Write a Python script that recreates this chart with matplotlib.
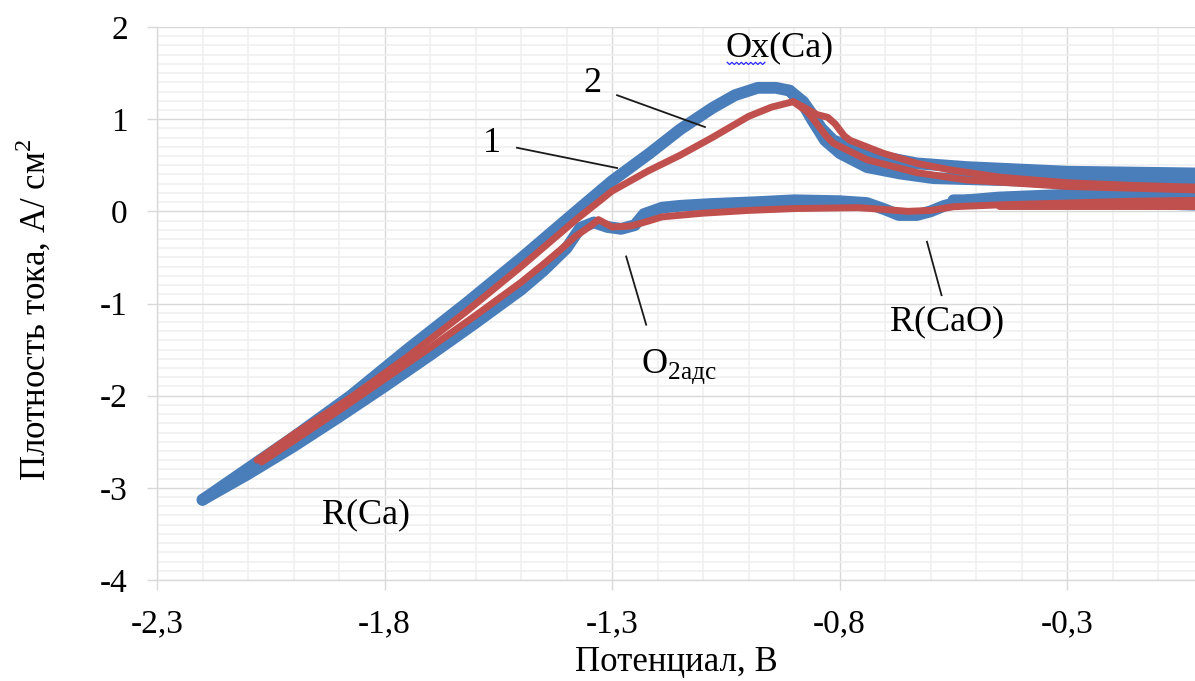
import matplotlib
matplotlib.use("Agg")
import matplotlib.pyplot as plt
from matplotlib.ticker import MultipleLocator, FixedLocator, FixedFormatter
import numpy as np

plt.rcParams['font.family'] = ['Liberation Serif', 'DejaVu Serif']
plt.rcParams['mathtext.fontset'] = 'custom'
plt.rcParams['mathtext.rm'] = 'Liberation Serif'
plt.rcParams['axes.unicode_minus'] = False

# --- curve 2 (blue): anodic sweep, tip -> peak -> tail
blue_up_x = [-2.20, -2.10, -2.00, -1.874, -1.75, -1.621, -1.50, -1.379,
             -1.30, -1.22, -1.15, -1.08, -1.03, -0.98, -0.94, -0.91, -0.88, -0.86,
             -0.84, -0.814, -0.777, -0.704, -0.63, -0.52, -0.30, -0.15, 0.0]
blue_up_y = [-3.13, -2.79, -2.45, -2.00, -1.50, -1.00, -0.51, 0.00,
             0.33, 0.62, 0.89, 1.12, 1.26, 1.34, 1.34, 1.31, 1.19, 1.05,
             0.90, 0.77, 0.70, 0.59, 0.52, 0.48, 0.43, 0.42, 0.41]
# second cycle of the anodic tail
blue_tail_x = [-0.91, -0.88, -0.86, -0.832, -0.799, -0.74, -0.667, -0.594, -0.45, -0.30, -0.15, 0.0]
blue_tail_y = [1.31, 1.16, 0.99, 0.77, 0.63, 0.48, 0.41, 0.36, 0.34, 0.32, 0.31, 0.30]
# cathodic sweep, right edge -> lower branch -> tip
blue_dn_x = [0.0, -0.15, -0.30, -0.45, -0.52, -0.57, -0.60, -0.63, -0.67, -0.70,
             -0.74, -0.80, -0.90, -0.98, -1.08, -1.15, -1.19, -1.23, -1.25, -1.28,
             -1.31, -1.34, -1.37, -1.40, -1.45, -1.50, -1.60, -1.70, -1.80, -1.90,
             -2.00, -2.10, -2.20]
blue_dn_y = [0.21, 0.20, 0.18, 0.15, 0.12, 0.06, 0.0, -0.04, -0.04, 0.02,
             0.09, 0.11, 0.12, 0.10, 0.08, 0.06, 0.04, -0.03, -0.15, -0.19,
             -0.17, -0.12, -0.18, -0.40, -0.64, -0.85, -1.21, -1.56, -1.90, -2.23,
             -2.55, -2.85, -3.13]
blue_dn2_x = [0.0, -0.15, -0.30, -0.45, -0.55]
blue_dn2_y = [0.07, 0.09, 0.11, 0.12, 0.12]

# --- curve 1 (red)
red_up_x = [-2.08, -2.00, -1.874, -1.75, -1.621, -1.50, -1.379, -1.30, -1.22,
            -1.15, -1.08, -1.00, -0.95, -0.902, -0.875, -0.85, -0.826, -0.81, -0.79,
            -0.777, -0.704, -0.63, -0.557, -0.447, -0.30, -0.15, 0.0]
red_up_y = [-2.70, -2.42, -2.02, -1.58, -1.09, -0.60, -0.09, 0.22, 0.44,
            0.61, 0.80, 1.03, 1.13, 1.19, 1.12, 1.05, 1.02, 0.95, 0.82,
            0.77, 0.63, 0.52, 0.45, 0.37, 0.31, 0.28, 0.26]
red_tail_x = [-0.902, -0.871, -0.85, -0.83, -0.814, -0.74, -0.63, -0.52, -0.30, -0.15, 0.0]
red_tail_y = [1.19, 1.08, 0.95, 0.82, 0.74, 0.56, 0.42, 0.34, 0.27, 0.25, 0.23]
red_dn_x = [0.0, -0.15, -0.30, -0.45, -0.55, -0.60, -0.65, -0.70, -0.76, -0.90,
            -1.00, -1.10, -1.19, -1.23, -1.26, -1.30, -1.33, -1.345, -1.38, -1.414,
            -1.45, -1.50, -1.60, -1.70, -1.80, -1.90, -2.00, -2.07]
red_dn_y = [0.12, 0.11, 0.09, 0.07, 0.05, 0.01, 0.0, 0.02, 0.04, 0.03,
            0.01, -0.02, -0.06, -0.12, -0.16, -0.17, -0.09, -0.15, -0.27, -0.42,
            -0.57, -0.77, -1.13, -1.48, -1.82, -2.16, -2.49, -2.72]
red_dn2_x = [0.0, -0.15, -0.30, -0.45]
red_dn2_y = [0.06, 0.06, 0.06, 0.06]

x_ticks = [-2.3, -1.8, -1.3, -0.8, -0.3]
x_labels = ['-2,3', '-1,8', '-1,3', '-0,8', '-0,3']
y_ticks = [-4, -3, -2, -1, 0, 1, 2]

BLUE = '#4A7EBB'
RED = '#C0504D'

fig = plt.figure(figsize=(11.95, 6.81), dpi=100)
ax = fig.add_axes([157 / 1195, 1 - 580 / 681, 1 - 157 / 1195, (580 - 27) / 681])
ax.set_xlim(-2.3, -0.019)
ax.set_ylim(-4, 2)

# grid
ax.xaxis.set_major_locator(FixedLocator(x_ticks))
ax.xaxis.set_major_formatter(FixedFormatter(x_labels))
ax.yaxis.set_major_locator(FixedLocator(y_ticks))
ax.xaxis.set_minor_locator(MultipleLocator(0.1))
ax.yaxis.set_minor_locator(MultipleLocator(0.1))
ax.grid(which='minor', color='#EFEFEF', linewidth=1.1)
ax.grid(which='major', color='#D9D9D9', linewidth=1.0)
ax.set_axisbelow(True)
ax.tick_params(which='minor', length=0)
ax.tick_params(which='major', direction='out', length=7, width=1.0, color='#D9D9D9',
               labelsize=24)
ax.tick_params(axis='x', pad=14)
ax.tick_params(axis='y', pad=14)
for s in ['top', 'right']:
    ax.spines[s].set_visible(False)
for s in ['left', 'bottom']:
    ax.spines[s].set_color('#D9D9D9')
    ax.spines[s].set_linewidth(1.0)

kw = dict(solid_capstyle='round', solid_joinstyle='round')
for xs, ys in [(blue_up_x, blue_up_y), (blue_tail_x, blue_tail_y),
               (blue_dn_x, blue_dn_y), (blue_dn2_x, blue_dn2_y)]:
    ax.plot(xs, ys, color=BLUE, lw=8.5, **kw)
for xs, ys in [(red_up_x, red_up_y), (red_tail_x, red_tail_y),
               (red_dn_x, red_dn_y), (red_dn2_x, red_dn2_y)]:
    ax.plot(xs, ys, color=RED, lw=5.0, **kw)

# labels on the curves
tsize = 26
ax.text(-0.931, 1.77, 'Ox(Ca)', fontsize=tsize, ha='center', va='center')
sq_x = np.linspace(-1.047, -0.964, 17)
sq_y = 1.605 + np.where(np.arange(17) % 2 == 0, 0.012, -0.012)
ax.plot(sq_x, sq_y, color='#2A2AFF', lw=0.9)

ax.text(-1.344, 1.39, '2', fontsize=tsize, ha='center', va='center')
ax.plot([-1.289, -1.096], [1.26, 0.915], color='#1A1A1A', lw=1.3)
ax.text(-1.564, 0.74, '1', fontsize=tsize, ha='center', va='center')
ax.plot([-1.509, -1.289], [0.69, 0.47], color='#1A1A1A', lw=1.3)

ax.text(-1.236, -1.69, r'O$_{\mathrm{2адс}}$', fontsize=tsize, ha='left', va='center')
ax.plot([-1.269, -1.225], [-0.49, -1.23], color='#1A1A1A', lw=1.3)

ax.text(-0.564, -1.20, 'R(CaO)', fontsize=tsize, ha='center', va='center')
ax.plot([-0.608, -0.576], [-0.33, -0.91], color='#1A1A1A', lw=1.3)

ax.text(-1.841, -3.29, 'R(Ca)', fontsize=tsize, ha='center', va='center')

fig.text(676 / 1195, 1 - 662 / 681, 'Потенциал, В', fontsize=25, ha='center', va='center')
fig.text(34 / 1195, 1 - 310 / 681, 'Плотность тока, А/ см$^{2}$', fontsize=25,
         ha='center', va='center', rotation=90)

fig.savefig('out.png', dpi=100, facecolor='white')
